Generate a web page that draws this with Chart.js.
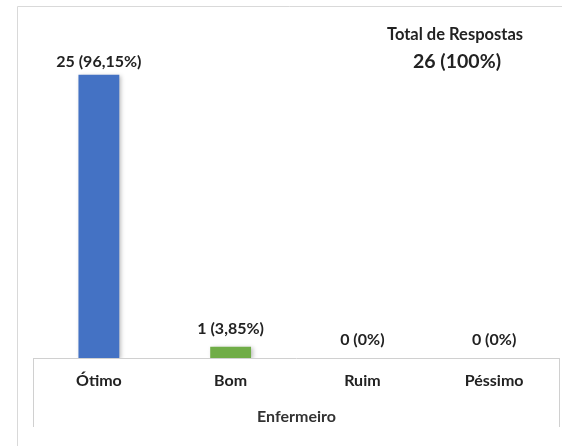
<!DOCTYPE html>
<html>
<head>
<meta charset="utf-8">
<script src="https://cdn.jsdelivr.net/npm/chart.js@4"></script>
<style>
  html, body { margin: 0; padding: 0; background: #fff; }
  #wrap { position: relative; width: 562px; height: 446px; }
</style>
</head>
<body>
<div id="wrap"><canvas id="chart" width="562" height="446"></canvas></div>
<script>
// Avaliação — Enfermeiro
const categories = ["Ótimo", "Bom", "Ruim", "Péssimo"];
const counts = [25, 1, 0, 0];
const percents = ["96,15%", "3,85%", "0%", "0%"];
const barColors = ["#4472C4", "#70AD47", "#A5A5A5", "#FFC000"];
const groupLabel = "Enfermeiro";
const totalTitle = "Total de Respostas";
const totalText = "26 (100%)";

const FONT = "Lato, 'Open Sans', sans-serif";

// frame, axis table lines, value labels and total box
const decor = {
  id: "decor",
  beforeDraw(chart) {
    const { ctx, width, height } = chart;
    ctx.save();
    ctx.strokeStyle = "#d9d9d9";
    ctx.lineWidth = 1;
    ctx.beginPath();
    ctx.moveTo(17.5, height);
    ctx.lineTo(17.5, 6.5);
    ctx.lineTo(width, 6.5);
    ctx.stroke();
    ctx.restore();
  },
  beforeDatasetsDraw(chart) {
    const { ctx } = chart;
    ctx.save();
    ctx.shadowColor = "rgba(0,0,0,0.25)";
    ctx.shadowBlur = 4;
    ctx.shadowOffsetX = 2;
    ctx.shadowOffsetY = 1;
  },
  afterDatasetsDraw(chart) {
    chart.ctx.restore();
  },
  afterDraw(chart) {
    const { ctx, chartArea } = chart;
    const x = chart.scales.x;
    ctx.save();
    // category table lines
    ctx.strokeStyle = "#d0d0d0";
    ctx.lineWidth = 1;
    ctx.beginPath();
    ctx.moveTo(chartArea.left, chartArea.bottom + 0.5);
    ctx.lineTo(chartArea.right, chartArea.bottom + 0.5);
    ctx.moveTo(chartArea.left + 0.5, chartArea.bottom);
    ctx.lineTo(chartArea.left + 0.5, x.bottom - 19);
    ctx.moveTo(chartArea.right - 0.5, chartArea.bottom);
    ctx.lineTo(chartArea.right - 0.5, x.bottom - 19);
    ctx.stroke();

    // value labels
    ctx.fillStyle = "#222";
    ctx.textAlign = "center";
    ctx.textBaseline = "middle";
    ctx.font = "bold 16px " + FONT;
    chart.getDatasetMeta(0).data.forEach((bar, i) => {
      const off = counts[i] > 1 ? 13 : 18;
      ctx.fillText(counts[i] + " (" + percents[i] + ")", bar.x, bar.y - off);
    });

    // total box
    ctx.font = "bold 16.5px " + FONT;
    ctx.fillText(totalTitle, 455, 35);
    ctx.font = "bold 19.5px " + FONT;
    ctx.fillText(totalText, 457, 62);
    ctx.restore();
  }
};

new Chart(document.getElementById("chart"), {
  type: "bar",
  data: {
    labels: categories,
    datasets: [{
      data: counts,
      backgroundColor: barColors,
      barPercentage: 0.62,
      categoryPercentage: 0.5
    }]
  },
  options: {
    responsive: false,
    animation: false,
    layout: { padding: { left: 33, right: 2, top: 18, bottom: 0 } },
    plugins: { legend: { display: false }, tooltip: { enabled: false } },
    scales: {
      x: {
        grid: { display: false, drawTicks: false },
        border: { display: false },
        ticks: { color: "#222", padding: 13, font: { family: FONT, size: 16, weight: "bold" } },
        title: {
          display: true,
          text: groupLabel,
          color: "#333",
          font: { family: FONT, size: 16, weight: "bold" },
          padding: { top: 10, bottom: 20 }
        },
        afterFit(scale) { scale.height = 88; }
      },
      y: { display: false, min: 0, max: 30 }
    }
  },
  plugins: [decor]
});
</script>
</body>
</html>
